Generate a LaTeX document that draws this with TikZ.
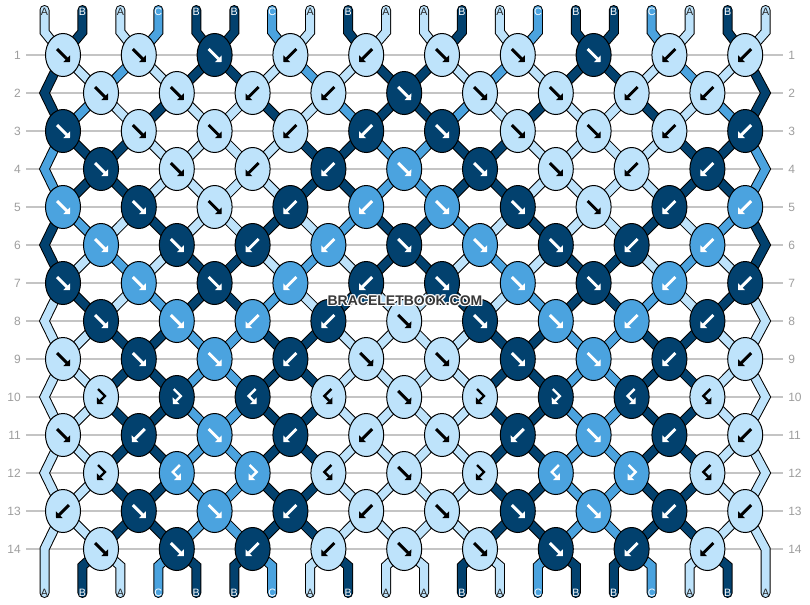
\documentclass[tikz,border=0pt]{standalone}
\usepackage{fontspec}
\setmainfont{Liberation Sans}
\usepackage{tikz}
\usetikzlibrary{shapes.geometric,arrows.meta,calc}
\pgfdeclarelayer{bg}
\pgfsetlayers{bg,main}
\definecolor{colA}{HTML}{BEE3FB}
\definecolor{colB}{HTML}{02416E}
\definecolor{colC}{HTML}{4BA3DF}
\colorlet{arrA}{black}
\colorlet{arrB}{white}
\colorlet{arrC}{white}
\colorlet{txtA}{black!85}
\colorlet{txtB}{white}
\colorlet{txtC}{white}
\definecolor{rulegray}{HTML}{C4C4C4}
\definecolor{numgray}{HTML}{9E9E9E}

\begin{document}
\begin{tikzpicture}[x=0.75pt, y=-0.75pt,
   knot/.style={ellipse, draw=black, line width=0.75pt, minimum width=26.25pt, minimum height=32.25pt, inner sep=0pt},
   strand/.style={draw=black, line width=0.75pt, double distance=6pt, line cap=round, line join=miter},
   rowrule/.style={draw=rulegray, line width=1.1pt},
   rownum/.style={text=numgray, font=\fontsize{9}{10}\selectfont, inner sep=0pt},
   strlab/.style={font=\fontsize{8}{9}\selectfont, inner sep=0pt},
   knotarrow/.style={line width=2.2pt, -{Triangle[length=3.5pt,width=7pt]}},
   pics/fw/.style={code={\draw[knotarrow] (-6,-6) -- (7,7);}},
   pics/bw/.style={code={\draw[knotarrow] (6,-6) -- (-7,7);}},
   pics/fb/.style={code={\draw[knotarrow, line width=1.8pt] (-3,-8) -- (4,-1) -- (-4,7);}},
   pics/bf/.style={code={\draw[knotarrow, line width=1.8pt] (3,-8) -- (-4,-1) -- (4,7);}},
   wmark/.style={font=\bfseries\fontsize{10.5}{12}\selectfont, inner sep=0pt}]
\useasboundingbox (0,0) rectangle (810,604);

% string colours between the rows (0 = top, 14 = bottom)
\foreach \r/\seq in {0/{A,B,A,C,B,B,C,A,B,A,A,B,A,C,B,B,C,A,B,A},
                     1/{B,A,C,A,B,B,A,C,A,B,B,A,C,A,B,B,A,C,A,B},
                     2/{B,C,A,B,A,A,B,A,C,B,B,C,A,B,A,A,B,A,C,B},
                     3/{C,B,B,A,A,A,A,B,B,C,C,B,B,A,A,A,A,B,B,C},
                     4/{C,B,B,A,A,A,A,B,B,C,C,B,B,A,A,A,A,B,B,C},
                     5/{B,C,A,B,A,A,B,A,C,B,B,C,A,B,A,A,B,A,C,B},
                     6/{B,A,C,A,B,B,A,C,A,B,B,A,C,A,B,B,A,C,A,B},
                     7/{A,B,A,C,B,B,C,A,B,A,A,B,A,C,B,B,C,A,B,A},
                     8/{A,A,B,B,C,C,B,B,A,A,A,A,B,B,C,C,B,B,A,A},
                     9/{A,A,B,B,C,C,B,B,A,A,A,A,B,B,C,C,B,B,A,A},
                     10/{A,A,B,B,C,C,B,B,A,A,A,A,B,B,C,C,B,B,A,A},
                     11/{A,A,B,B,C,C,B,B,A,A,A,A,B,B,C,C,B,B,A,A},
                     12/{A,A,B,B,C,C,B,B,A,A,A,A,B,B,C,C,B,B,A,A},
                     13/{A,A,B,B,C,C,B,B,A,A,A,A,B,B,C,C,B,B,A,A},
                     14/{A,B,A,C,B,B,C,A,B,A,A,B,A,C,B,B,C,A,B,A}}
  \foreach \scol [count=\i] in \seq
    {\expandafter\xdef\csname s\r-\i\endcsname{\scol}}

% string ends and turning points at the edges
\foreach \i in {1,...,20} {
  \pgfmathsetmacro\x{44.5+37.95*(\i-1)}
  \coordinate (top-\i) at (\x,10);
  \coordinate (topb-\i) at (\x,32);
  \coordinate (botb-\i) at (\x,566);
  \coordinate (bot-\i) at (\x,593);
}
\foreach \r in {2,4,...,14} {
  \pgfmathsetmacro\y{55+38*(\r-1)}
  \coordinate (eL-\r) at (44.5,\y);
  \coordinate (eR-\r) at (765.5,\y);
}

% row numbers
\foreach \r in {1,...,14} {
  \pgfmathsetmacro\y{55+38*(\r-1)}
  \node[rownum, anchor=east] (nl-\r) at (21,\y) {\r};
  \node[rownum, anchor=west] (nr-\r) at (788,\y) {\r};
}

% knots
\foreach \r/\row in {1/{fw/A,fw/A,fw/B,bw/A,bw/A,fw/A,fw/A,fw/B,bw/A,bw/A},
                     2/{fw/A,fw/A,bw/A,bw/A,fw/B,fw/A,fw/A,bw/A,bw/A},
                     3/{fw/B,fw/A,fw/A,bw/A,bw/B,fw/B,fw/A,fw/A,bw/A,bw/B},
                     4/{fw/B,fw/A,bw/A,bw/B,fw/C,fw/B,fw/A,bw/A,bw/B},
                     5/{fw/C,fw/B,fw/A,bw/B,bw/C,fw/C,fw/B,fw/A,bw/B,bw/C},
                     6/{fw/C,fw/B,bw/B,bw/C,fw/B,fw/C,fw/B,bw/B,bw/C},
                     7/{fw/B,fw/C,fw/B,bw/C,bw/B,fw/B,fw/C,fw/B,bw/C,bw/B},
                     8/{fw/B,fw/C,bw/C,bw/B,fw/A,fw/B,fw/C,bw/C,bw/B},
                     9/{fw/A,fw/B,fw/C,bw/B,fw/A,fw/A,fw/B,fw/C,bw/B,bw/A},
                     10/{fb/A,fb/B,bf/B,bf/A,fw/A,fb/A,fb/B,bf/B,bf/A},
                     11/{fw/A,bw/B,fw/C,bw/B,bw/A,fw/A,bw/B,fw/C,bw/B,bw/A},
                     12/{fb/A,bf/C,fb/C,bf/A,fw/A,fb/A,bf/C,fb/C,bf/A},
                     13/{bw/A,fw/B,fw/C,bw/B,bw/A,fw/A,fw/B,fw/C,bw/B,bw/A},
                     14/{fw/A,fw/B,bw/B,bw/A,fw/A,fw/A,fw/B,bw/B,bw/A}} {
  \pgfmathsetmacro\y{55+38*(\r-1)}
  \pgfmathsetmacro\xo{mod(\r,2)==1 ? 63 : 101}
  \foreach \kt/\kc [count=\k] in \row {
    \node[knot, fill=col\kc] (k-\r-\k) at ({\xo+75.8*(\k-1)},\y) {};
    \pic[color=arr\kc] at (k-\r-\k.center) {\kt};
  }
}

% letters on the string ends
\foreach \i in {1,...,20} {
  \edef\toplet{\csname s0-\i\endcsname}
  \node[strlab, text=txt\toplet] (lt-\i) at ($(top-\i)+(0,2)$) {\toplet};
  \edef\botlet{\csname s14-\i\endcsname}
  \node[strlab, text=txt\botlet] (lb-\i) at (bot-\i) {\botlet};
}

% watermark
\foreach \dx/\dy [count=\n] in {-1/0,1/0,0/-1,0/1,-1/-1,1/1,-1/1,1/-1}
  \node[wmark, text=white] (wm-\n) at (405+\dx,301+\dy) {BRACELETBOOK.COM};
\node[wmark, text=black!78] (wm) at (405,301) {BRACELETBOOK.COM};

\begin{pgfonlayer}{bg}
\fill[white] (0,0) rectangle (810,604);
\foreach \r in {1,...,14}
  \draw[rowrule, shorten <=3.75pt, shorten >=3.75pt] (nl-\r.east) -- (nr-\r.west);
% strings from the top
\foreach \i in {1,...,20} {
  \pgfmathtruncatemacro\k{int((\i+1)/2)}
  \edef\strc{col\csname s0-\i\endcsname}
  \draw[strand, double=\strc] (top-\i) -- (topb-\i) -- (k-1-\k.center);
}
% strings between the knots
\foreach \r in {1,...,13} {
  \pgfmathtruncatemacro\rn{\r+1}
  \foreach \i in {2,...,19} {
    \pgfmathtruncatemacro\ka{mod(\r,2)==1 ? int((\i+1)/2) : int(\i/2)}
    \pgfmathtruncatemacro\kb{mod(\r,2)==1 ? int(\i/2) : int((\i+1)/2)}
    \edef\strc{col\csname s\r-\i\endcsname}
    \draw[strand, double=\strc] (k-\r-\ka.center) -- (k-\rn-\kb.center);
  }
}
% edge strings
\foreach \r in {1,3,...,11} {
  \pgfmathtruncatemacro\rmid{\r+1}
  \pgfmathtruncatemacro\rnext{\r+2}
  \edef\strc{col\csname s\r-1\endcsname}
  \draw[strand, double=\strc] (k-\r-1.center) -- (eL-\rmid) -- (k-\rnext-1.center);
  \edef\strc{col\csname s\r-20\endcsname}
  \draw[strand, double=\strc] (k-\r-10.center) -- (eR-\rmid) -- (k-\rnext-10.center);
}
\draw[strand, double=colA] (k-13-1.center) -- (eL-14) -- (bot-1);
\draw[strand, double=colA] (k-13-10.center) -- (eR-14) -- (bot-20);
% strings to the bottom
\foreach \i in {2,...,19} {
  \pgfmathtruncatemacro\k{int(\i/2)}
  \edef\strc{col\csname s14-\i\endcsname}
  \draw[strand, double=\strc] (k-14-\k.center) -- (botb-\i) -- (bot-\i);
}
\end{pgfonlayer}
\end{tikzpicture}
\end{document}
